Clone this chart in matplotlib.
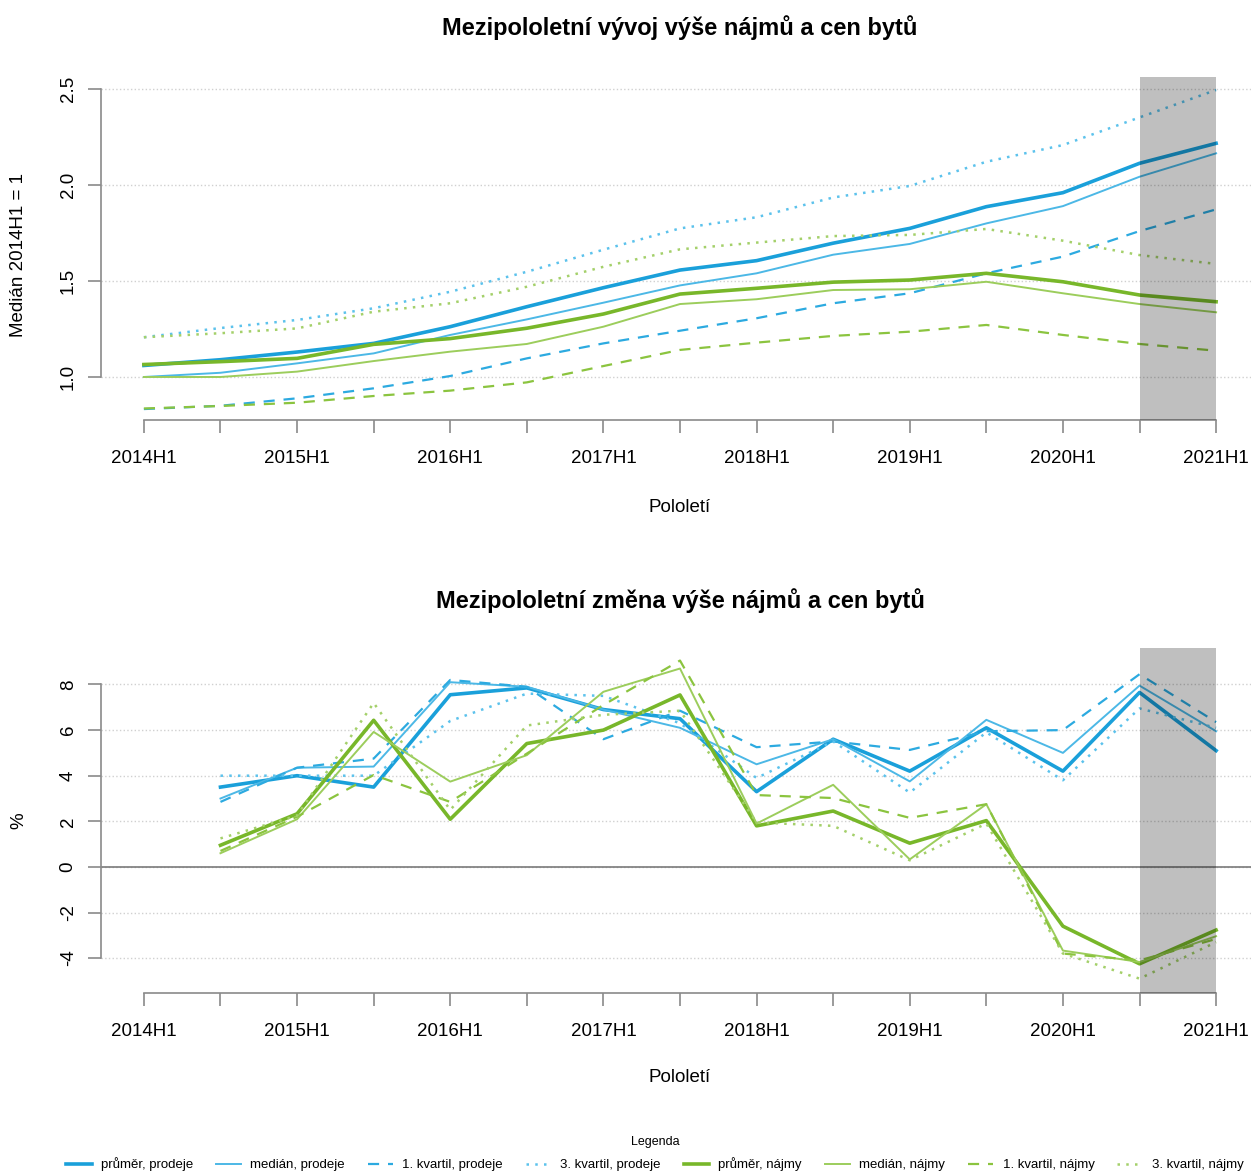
import numpy as np
import matplotlib
matplotlib.use("Agg")
import matplotlib.pyplot as plt
from matplotlib.lines import Line2D

plt.rcParams['font.family'] = ['Liberation Sans', 'DejaVu Sans']

periods = ['2014H1', '2014H2', '2015H1', '2015H2', '2016H1', '2016H2', '2017H1', '2017H2',
           '2018H1', '2018H2', '2019H1', '2019H2', '2020H1', '2020H2', '2021H1']

# index, median 2014H1 = 1
prum_prodeje = [1.06, 1.09, 1.13, 1.175, 1.262, 1.366, 1.465, 1.557, 1.606, 1.697, 1.774, 1.887, 1.96, 2.113, 2.217]
med_prodeje = [1.0, 1.022, 1.071, 1.123, 1.219, 1.30, 1.387, 1.477, 1.54, 1.637, 1.693, 1.80, 1.89, 2.043, 2.165]
q1_prodeje = [0.833, 0.85, 0.889, 0.941, 1.005, 1.097, 1.175, 1.241, 1.306, 1.384, 1.436, 1.54, 1.627, 1.76, 1.873]
q3_prodeje = [1.207, 1.255, 1.297, 1.358, 1.444, 1.548, 1.663, 1.774, 1.832, 1.935, 1.995, 2.121, 2.208, 2.352, 2.495]
prum_najmy = [1.065, 1.08, 1.097, 1.17, 1.20, 1.254, 1.328, 1.432, 1.462, 1.494, 1.505, 1.54, 1.496, 1.427, 1.392]
med_najmy = [1.0, 1.0, 1.028, 1.083, 1.132, 1.172, 1.262, 1.38, 1.405, 1.453, 1.457, 1.496, 1.436, 1.38, 1.337]
q1_najmy = [0.836, 0.849, 0.866, 0.901, 0.929, 0.972, 1.057, 1.141, 1.179, 1.214, 1.236, 1.271, 1.219, 1.172, 1.137]
q3_najmy = [1.207, 1.228, 1.253, 1.34, 1.384, 1.47, 1.574, 1.665, 1.70, 1.734, 1.74, 1.771, 1.71, 1.635, 1.589]

# half-year change, %
zm_prum_prodeje = [np.nan, 3.5, 4.0, 3.5, 7.55, 7.85, 6.9, 6.5, 3.3, 5.6, 4.2, 6.1, 4.2, 7.65, 5.1]
zm_med_prodeje = [np.nan, 3.0, 4.35, 4.4, 8.1, 7.9, 6.9, 6.1, 4.5, 5.6, 3.75, 6.45, 5.0, 7.95, 5.95]
zm_q1_prodeje = [np.nan, 2.85, 4.35, 4.75, 8.2, 7.9, 5.6, 6.85, 5.25, 5.5, 5.13, 5.95, 6.0, 8.45, 6.35]
zm_q3_prodeje = [np.nan, 4.0, 4.0, 4.0, 6.4, 7.6, 7.5, 6.3, 3.9, 5.5, 3.26, 5.9, 3.8, 6.95, 6.1]
zm_prum_najmy = [np.nan, 0.95, 2.33, 6.43, 2.09, 5.41, 6.0, 7.54, 1.8, 2.45, 1.04, 2.03, -2.6, -4.25, -2.77]
zm_med_najmy = [np.nan, 0.6, 2.09, 5.92, 3.74, 4.9, 7.68, 8.7, 1.9, 3.6, 0.33, 2.75, -3.67, -4.17, -3.04]
zm_q1_najmy = [np.nan, 0.7, 2.2, 4.03, 2.85, 4.97, 7.1, 9.05, 3.15, 3.02, 2.15, 2.75, -3.8, -4.1, -3.16]
zm_q3_najmy = [np.nan, 1.25, 2.25, 7.19, 2.5, 6.2, 6.67, 6.85, 1.95, 1.8, 0.29, 1.9, -3.8, -4.9, -3.3]

labels = ['průměr, prodeje', 'medián, prodeje', '1. kvartil, prodeje', '3. kvartil, prodeje',
          'průměr, nájmy', 'medián, nájmy', '1. kvartil, nájmy', '3. kvartil, nájmy']

DASH = (0, (5, 4))
DOT = (0, (1, 2.5))
styles = [
    dict(color='#1aa0da', lw=2.6, ls='-'),
    dict(color='#4cb8e6', lw=1.4, ls='-'),
    dict(color='#2caae0', lw=1.6, ls=DASH),
    dict(color='#5cc2ec', lw=1.8, ls=DOT),
    dict(color='#78b72a', lw=2.6, ls='-'),
    dict(color='#9ccd5c', lw=1.4, ls='-'),
    dict(color='#8bc43f', lw=1.6, ls=DASH),
    dict(color='#a4d06a', lw=1.8, ls=DOT),
]

top_series = [prum_prodeje, med_prodeje, q1_prodeje, q3_prodeje,
              prum_najmy, med_najmy, q1_najmy, q3_najmy]
bot_series = [zm_prum_prodeje, zm_med_prodeje, zm_q1_prodeje, zm_q3_prodeje,
              zm_prum_najmy, zm_med_najmy, zm_q1_najmy, zm_q3_najmy]

x = np.arange(len(periods))
W, H = 1251, 1171
fig = plt.figure(figsize=(W / 100, H / 100), dpi=100)

AX_COL = '#8a8a8a'
GRID_COL = '#d0d0d0'
FS = 13.5


def setup(ax, ylim, yticks, ytlabels, ylabel, title, pad):
    ax.set_xlim(-0.56, 14.56)
    ax.set_ylim(*ylim)
    for s in ['top', 'right']:
        ax.spines[s].set_visible(False)
    ax.spines['left'].set_bounds(yticks[0], yticks[-1])
    ax.spines['bottom'].set_bounds(0, 14)
    for s in ['left', 'bottom']:
        ax.spines[s].set_color(AX_COL)
        ax.spines[s].set_linewidth(1.2)
    ax.set_xticks(x)
    ax.set_xticklabels([p if i % 2 == 0 else '' for i, p in enumerate(periods)])
    ax.set_xticks(x[1::2], minor=True)
    ax.set_yticks(yticks)
    ax.set_yticklabels(ytlabels, rotation=90, va='center')
    ax.tick_params(axis='x', which='major', length=9.5, width=1.2, color=AX_COL,
                   labelsize=FS, pad=12)
    ax.tick_params(axis='x', which='minor', length=0)
    ax.tick_params(axis='y', length=9.5, width=1.2, color=AX_COL, labelsize=FS, pad=8)
    ax.grid(True, which='minor', axis='x', color=GRID_COL, ls=':', lw=1)
    ax.grid(True, which='major', axis='y', color=GRID_COL, ls=':', lw=1)
    ax.set_axisbelow(True)
    ax.set_ylabel(ylabel, fontsize=FS)
    ax.set_xlabel('Pololetí', fontsize=FS)
    ax.set_title(title, fontsize=17, fontweight='bold', pad=pad)
    # shaded last half-year
    ax.axvspan(13, 14, color='black', alpha=0.25, lw=0, zorder=5)


# top chart
ax1 = fig.add_axes([101 / W, 1 - 420 / H, 1158 / W, 343 / H])
for s, st in zip(top_series, styles):
    ax1.plot(x, s, zorder=3, **st)
setup(ax1, (0.776, 2.5625), [1.0, 1.5, 2.0, 2.5], ['1.0', '1.5', '2.0', '2.5'],
      'Medián 2014H1 = 1', 'Mezipololetní vývoj výše nájmů a cen bytů', 30)
ax1.yaxis.set_label_coords(-0.064, 0.48)
ax1.xaxis.set_label_coords(0.5, -(508 - 420) / 343)
ax1.xaxis.label.set_va('center')

# bottom chart
ax2 = fig.add_axes([101 / W, 1 - 993 / H, 1158 / W, 345 / H])
ax2.axhline(0, color='#7a7a7a', lw=1.2, zorder=2)
for s, st in zip(bot_series, styles):
    ax2.plot(x, s, zorder=3, **st)
setup(ax2, (-5.53, 9.6), [-4, -2, 0, 2, 4, 6, 8], ['-4', '-2', '0', '2', '4', '6', '8'],
      '%', 'Mezipololetní změna výše nájmů a cen bytů', 29)
ax2.yaxis.set_label_coords(-0.064, 0.5)
ax2.xaxis.set_label_coords(0.5, -(1078 - 993) / 345)
ax2.xaxis.label.set_va('center')

handles = [Line2D([], [], **st) for st in styles]
leg = fig.legend(handles, labels, loc='upper center', bbox_to_anchor=(655 / W, 1 - 1129 / H),
                 ncol=8, frameon=False, fontsize=9.5, title='Legenda', title_fontsize=9,
                 handlelength=1.9, handletextpad=0.7, columnspacing=1.75, borderpad=0,
                 labelspacing=0.75)

fig.savefig('out.png', dpi=100)
